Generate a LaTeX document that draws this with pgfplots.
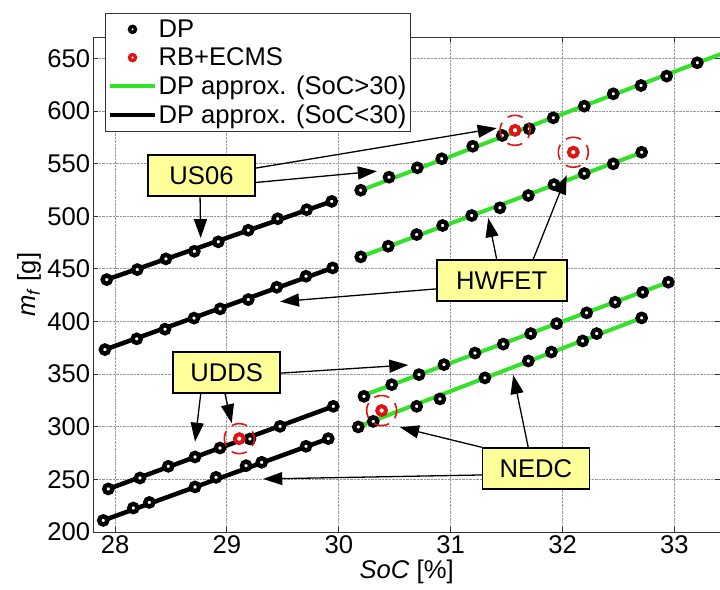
\documentclass[border=0pt]{standalone}
\usepackage{fontspec}
\setmainfont{Liberation Sans}
\usepackage{pgfplots}
\pgfplotsset{compat=1.18}
\usetikzlibrary{arrows.meta}
\definecolor{mygreen}{RGB}{50,225,40}
\definecolor{myred}{RGB}{225,20,20}
\definecolor{boxyellow}{RGB}{255,255,153}
\newcommand{\bigf}{\fontsize{25.6}{28}\selectfont}
\begin{document}
\begin{tikzpicture}
\path[use as bounding box] (-93.3pt,-57pt) rectangle (626.7pt,532pt);
\begin{axis}[
  at={(0,0)}, anchor=south west,
  scale only axis, width=626.7pt, height=494.7pt,
  xmin=27.806, xmax=33.407, ymin=200, ymax=670,
  xtick={28,29,30,31,32,33}, ytick={200,250,...,650},
  grid=major, grid style={densely dotted, black!40, line width=0.8pt},
  axis line style={black!80, line width=1pt},
  tick style={black!80, line width=0.8pt}, major tick length=5pt,
  tick align=inside,
  ticklabel style={font=\bigf, inner sep=3pt},
  /pgf/number format/assume math mode=true,
  xlabel={\textit{SoC} [\%]},
  ylabel={\textit{m}\textsubscript{\textit{f}} [g]},
  label style={font=\bigf},
  legend style={at={(axis description cs:0.0187,1.0485)}, anchor=north west,
    draw=black!80, line width=1pt, fill=white, font=\bigf, row sep=5pt,
    cells={anchor=west}, inner xsep=2pt, inner ysep=4pt},
  legend cell align=left,
]
% ---- DP points ----
\pgfplotsset{dpmark/.style={only marks, mark=*, mark size=4.1pt,
  mark options={draw=black, fill=white, line width=4.4pt}, forget plot}}
% US06 (SoC>30)
\addplot[dpmark] coordinates {(30.196,524.7)(30.449,537.1)(30.702,546.0)(30.920,554.6)(31.197,566.5)(31.461,576.7)(31.702,583.0)(31.917,593.5)(32.194,604.6)(32.453,616.3)(32.701,624.2)(32.930,633.1)(33.204,645.8)(33.420,658.0)};
% HWFET (SoC>30)
\addplot[dpmark] coordinates {(30.196,461.4)(30.442,471.5)(30.696,482.6)(30.928,491.2)(31.188,500.7)(31.440,508.0)(31.694,519.7)(31.923,530.1)(32.194,540.6)(32.453,549.8)(32.707,560.8)};
% UDDS (SoC>30)
\addplot[dpmark] coordinates {(30.225,328.9)(30.473,340.0)(30.717,349.5)(30.940,359.0)(31.217,370.0)(31.470,378.5)(31.715,388.5)(31.947,398.0)(32.215,408.2)(32.470,418.3)(32.716,427.8)(32.945,437.3)};
% NEDC (SoC>30)
\addplot[dpmark] coordinates {(30.174,299.8)(30.308,305.1)(30.696,319.4)(30.904,326.4)(31.306,346.4)(31.694,362.5)(31.900,371.0)(32.180,381.5)(32.305,388.5)(32.707,403.4)};
% US06 (SoC<30)
\addplot[dpmark] coordinates {(27.926,439.8)(28.199,449.3)(28.455,459.5)(28.709,466.7)(28.923,475.7)(29.191,486.7)(29.454,497.6)(29.713,506.2)(29.937,514.1)};
% HWFET (SoC<30)
\addplot[dpmark] coordinates {(27.910,373.3)(28.194,383.5)(28.447,392.7)(28.706,403.2)(28.940,412.0)(29.191,420.8)(29.445,432.5)(29.707,443.0)(29.945,450.9)};
% UDDS (SoC<30)
\addplot[dpmark] coordinates {(27.940,240.9)(28.223,251.3)(28.476,262.4)(28.715,271.3)(28.938,279.8)(29.206,288.4)(29.475,300.4)(29.951,319.4)};
% NEDC (SoC<30)
\addplot[dpmark] coordinates {(27.895,211.0)(28.164,222.8)(28.307,228.1)(28.715,242.8)(28.903,251.9)(29.171,263.0)(29.311,266.2)(29.707,281.4)(29.906,288.7)};
% ---- DP approximations ----
\addplot[mygreen, line width=4pt, forget plot] coordinates {(30.17,523.5)(33.50,657.5)};
\addplot[mygreen, line width=4pt, forget plot] coordinates {(30.17,460.5)(32.707,560.5)};
\addplot[mygreen, line width=4pt, forget plot] coordinates {(30.20,329.0)(32.945,437.3)};
\addplot[mygreen, line width=4pt, forget plot] coordinates {(30.17,300.0)(32.707,403.4)};
\addplot[black, line width=4.5pt, forget plot] coordinates {(27.926,439.8)(29.937,514.1)};
\addplot[black, line width=4.5pt, forget plot] coordinates {(27.910,373.3)(29.945,450.9)};
\addplot[black, line width=4.5pt, forget plot] coordinates {(27.940,240.9)(29.951,319.4)};
\addplot[black, line width=4.5pt, forget plot] coordinates {(27.895,211.0)(29.906,288.7)};
% ---- RB+ECMS ----
\addplot[only marks, mark=o, mark size=15pt, forget plot,
  mark options={draw=myred, line width=1.6pt, dash pattern=on 15.5pt off 8pt, rotate=-30}]
  coordinates {(31.575,581.6)(32.096,560.8)(29.111,288.7)(30.383,315.4)};
\addplot[only marks, mark=*, mark size=4.4pt, forget plot,
  mark options={draw=myred, fill=white, line width=4pt}]
  coordinates {(31.575,581.6)(32.096,560.8)(29.111,288.7)(30.383,315.4)};
% ---- annotations ----
\tikzset{arr/.style={line width=1.3pt, -{Triangle[length=19pt,width=13pt]}},
  lbl/.style={draw=black, line width=1.8pt, fill=boxyellow, font=\bigf,
  minimum height=41pt, inner sep=0pt}}
% US06
\draw[arr] (axis cs:29.251,545.6) -- (axis cs:31.411,583.7);
\draw[arr] (axis cs:29.251,532.0) -- (axis cs:30.340,542.8);
\draw[arr] (axis cs:28.760,519.4) -- (axis cs:28.766,479.2);
\node[lbl, minimum width=107pt] at (axis cs:28.773,538.9) {US06};
% HWFET
\draw[arr] (axis cs:30.875,431.0) -- (axis cs:29.475,418.9);
\draw[arr] (axis cs:31.411,459.2) -- (axis cs:31.336,498.2);
\draw[arr] (axis cs:31.738,459.2) -- (axis cs:32.037,539.0);
\node[lbl, minimum width=130pt] at (axis cs:31.456,438.8) {HWFET};
% UDDS
\draw[arr] (axis cs:29.475,350.9) -- (axis cs:30.621,358.7);
\draw[arr] (axis cs:28.766,331.2) -- (axis cs:28.715,285.8);
\draw[arr] (axis cs:28.983,331.2) -- (axis cs:29.043,303.3);
\node[lbl, minimum width=107pt] at (axis cs:28.998,351.6) {UDDS};
% NEDC
\draw[arr] (axis cs:31.286,254.2) -- (axis cs:29.325,250.4);
\draw[arr] (axis cs:31.277,280.5) -- (axis cs:30.547,299.5);
\draw[arr] (axis cs:31.693,280.5) -- (axis cs:31.559,349.2);
\node[lbl, minimum width=107pt] at (axis cs:31.762,260.6) {NEDC};
% ---- legend ----
\addlegendimage{legend image code/.code={\draw[black, line width=3.4pt, fill=white] (23pt,0pt) circle (3pt);}}
\addlegendentry{DP}
\addlegendimage{legend image code/.code={\draw[myred, line width=3.4pt, fill=white] (23pt,0pt) circle (3pt);}}
\addlegendentry{RB+ECMS}
\addlegendimage{legend image code/.code={\draw[mygreen, line width=4pt] (0pt,0pt) -- (45pt,0pt);}}
\addlegendentry{DP approx. (SoC>30)}
\addlegendimage{legend image code/.code={\draw[black, line width=4pt] (0pt,0pt) -- (45pt,0pt);}}
\addlegendentry{DP approx. (SoC<30)}
\end{axis}
\end{tikzpicture}
\end{document}
